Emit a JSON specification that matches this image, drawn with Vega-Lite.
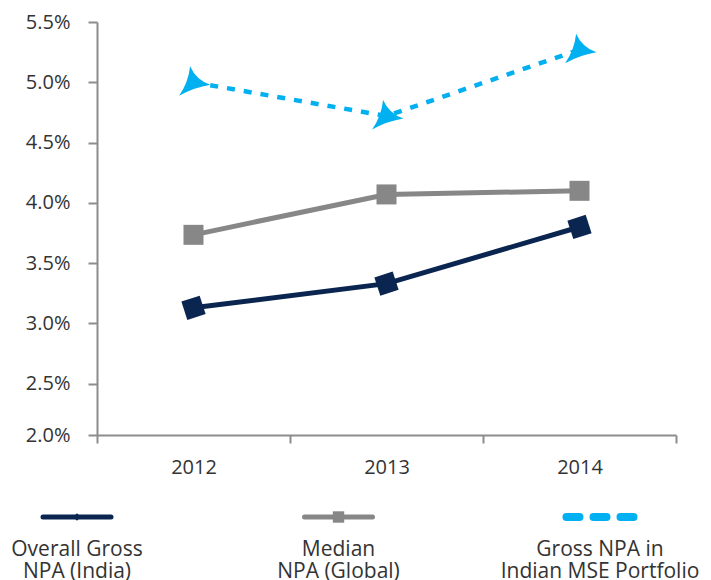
{
  "$schema": "https://vega.github.io/schema/vega-lite/v6.json",
  "padding": {"left": 5, "top": 12, "right": 5, "bottom": 0},
  "config": {"view": {"stroke": null}, "font": "Open Sans", "concat": {"spacing": 24}},
  "datasets": {
    "npa": [
      {"year": 2012, "series": "Overall Gross NPA (India)", "value": 3.13},
      {"year": 2013, "series": "Overall Gross NPA (India)", "value": 3.33},
      {"year": 2014, "series": "Overall Gross NPA (India)", "value": 3.80},
      {"year": 2012, "series": "Median NPA (Global)", "value": 3.735},
      {"year": 2013, "series": "Median NPA (Global)", "value": 4.07},
      {"year": 2014, "series": "Median NPA (Global)", "value": 4.10},
      {"year": 2012, "series": "Gross NPA in Indian MSE Portfolio", "value": 5.00},
      {"year": 2013, "series": "Gross NPA in Indian MSE Portfolio", "value": 4.72},
      {"year": 2014, "series": "Gross NPA in Indian MSE Portfolio", "value": 5.27}
    ],
    "legend": [
      {"series": "Overall Gross NPA (India)", "label": "Overall Gross\nNPA (India)"},
      {"series": "Median NPA (Global)", "label": "Median\nNPA (Global)"},
      {"series": "Gross NPA in Indian MSE Portfolio", "label": "Gross NPA in\nIndian MSE Portfolio"}
    ]
  },
  "vconcat": [
    {
      "width": 579,
      "height": 413,
      "data": {"name": "npa"},
      "encoding": {
        "x": {
          "field": "year", "type": "quantitative",
          "scale": {"domain": [2011.5, 2014.5], "nice": false, "zero": false},
          "axis": {
            "title": null, "grid": false,
            "values": [2011.5, 2012, 2012.5, 2013, 2013.5, 2014, 2014.5],
            "labelExpr": "datum.value % 1 === 0 ? '' + datum.value : ''",
            "tickOpacity": {"condition": {"test": "datum.value % 1 === 0", "value": 0}, "value": 1},
            "domainColor": "#8c8c8c", "domainWidth": 2,
            "tickColor": "#8c8c8c", "tickWidth": 2, "tickSize": 8,
            "labelFontSize": 20, "labelColor": "#333333", "labelPadding": 14,
            "labelFlush": false, "labelOverlap": false
          }
        },
        "y": {
          "field": "value", "type": "quantitative",
          "scale": {"domain": [2.075, 5.5], "nice": false, "zero": false},
          "axis": {
            "title": null, "grid": false,
            "values": [2.075, 2.5, 3, 3.5, 4, 4.5, 5, 5.5],
            "labelExpr": "datum.value < 2.1 ? '2.0%' : format(datum.value, '.1f') + '%'",
            "domainColor": "#8c8c8c", "domainWidth": 2,
            "tickColor": "#8c8c8c", "tickWidth": 2, "tickSize": 9,
            "labelFontSize": 20, "labelColor": "#333333", "labelPadding": 18,
            "minExtent": 92, "labelOverlap": false
          }
        },
        "color": {
          "field": "series", "type": "nominal",
          "scale": {
            "domain": ["Overall Gross NPA (India)", "Median NPA (Global)", "Gross NPA in Indian MSE Portfolio"],
            "range": ["#0a2550", "#878787", "#00b0f0"]
          },
          "legend": null
        }
      },
      "layer": [
        {
          "transform": [{"filter": "datum.series !== 'Gross NPA in Indian MSE Portfolio'"}],
          "mark": {"type": "line", "strokeWidth": 5}
        },
        {
          "transform": [{"filter": "datum.series === 'Gross NPA in Indian MSE Portfolio'"}],
          "mark": {"type": "line", "strokeWidth": 4.5, "strokeDash": [8, 9]}
        },
        {
          "transform": [{"filter": "datum.series === 'Median NPA (Global)'"}],
          "mark": {"type": "point", "shape": "square", "size": 400, "filled": true, "opacity": 1}
        },
        {
          "transform": [{"filter": "datum.series === 'Overall Gross NPA (India)'"}],
          "mark": {"type": "point", "shape": "square", "size": 370, "filled": true, "opacity": 1, "angle": -18}
        },
        {
          "transform": [{"filter": "datum.series === 'Gross NPA in Indian MSE Portfolio'"}],
          "mark": {"type": "point", "shape": "M-0.2,-0.95Q0.15,-0.15 1,0.15Q0.05,0.3 -0.85,0.8Q-0.3,0 -0.2,-0.95Z", "size": 1150, "filled": true, "opacity": 1}
        }
      ]
    },
    {
      "width": 483,
      "height": 20,
      "data": {"name": "legend"},
      "encoding": {
        "x": {
          "field": "series", "type": "nominal",
          "scale": {"type": "point", "domain": ["Overall Gross NPA (India)", "Median NPA (Global)", "Gross NPA in Indian MSE Portfolio"], "range": [-20, 503], "padding": 0},
          "axis": null
        },
        "color": {"field": "series", "type": "nominal", "legend": null}
      },
      "layer": [
        {
          "transform": [{"filter": "datum.series !== 'Gross NPA in Indian MSE Portfolio'"}],
          "mark": {"type": "point", "shape": "M-1,0L1,0", "size": 4624, "strokeWidth": 5, "strokeCap": "round", "filled": false, "opacity": 1}
        },
        {
          "transform": [{"filter": "datum.series === 'Gross NPA in Indian MSE Portfolio'"}],
          "mark": {"type": "point", "shape": "M-1,0L1,0", "size": 4489, "strokeWidth": 8, "strokeCap": "round", "strokeDash": [13, 14], "filled": false, "opacity": 1}
        },
        {
          "transform": [{"filter": "datum.series === 'Overall Gross NPA (India)'"}],
          "mark": {"type": "point", "shape": "diamond", "size": 60, "filled": true, "opacity": 1}
        },
        {
          "transform": [{"filter": "datum.series === 'Median NPA (Global)'"}],
          "mark": {"type": "point", "shape": "square", "size": 130, "filled": true, "opacity": 1}
        },
        {
          "mark": {"type": "text", "lineBreak": "\n", "fontSize": 21, "color": "#333333", "baseline": "top", "dy": 22, "lineHeight": 22, "align": "center"},
          "encoding": {"text": {"field": "label"}, "color": {"value": "#333333"}}
        }
      ]
    }
  ]
}
